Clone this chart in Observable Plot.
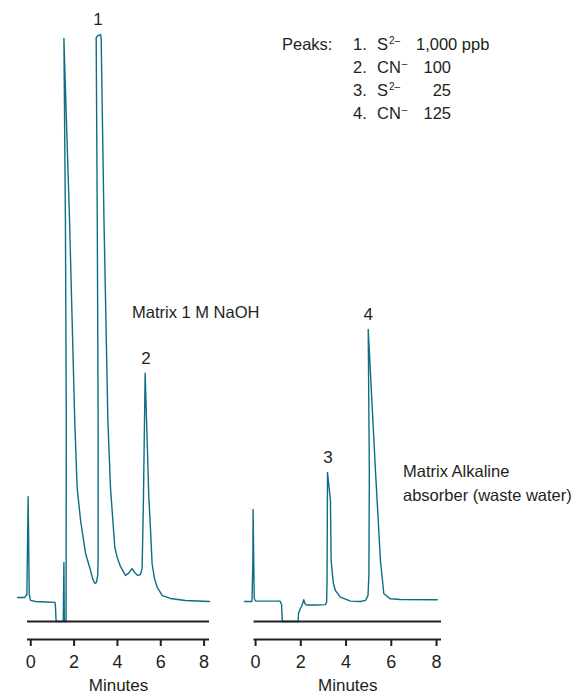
<!DOCTYPE html>
<html>
<head>
<meta charset="utf-8">
<script src="https://cdn.jsdelivr.net/npm/d3@7"></script>
<script src="https://cdn.jsdelivr.net/npm/@observablehq/plot@0.6"></script>
<style>
  html, body { margin: 0; padding: 0; background: #fff; }
  #wrap { position: relative; width: 572px; height: 693px; overflow: hidden;
          font-family: "Liberation Sans", Arial, sans-serif; color: #231f20; }
  .panel { position: absolute; top: 0; }
  .t { position: absolute; white-space: nowrap; font-size: 16.5px; line-height: 18px; }
  .t sup { font-size: 10px; line-height: 0; vertical-align: 0.6em; margin-left: 1px; }
</style>
</head>
<body>
<div id="wrap"></div>
<script>
// ---------- data (time in minutes, signal in arbitrary detector units) ----------
const leftTime = [-0.61, -0.29, -0.18, -0.12, -0.07, -0.01, 0.22, 0.68, 1.12, 1.14, 1.17,
  1.50, 1.53, 1.55, 1.63, 1.64, 1.60, 1.53, 1.79, 2.03, 2.14, 2.30, 2.53, 2.76, 2.87, 2.96,
  3.03, 3.09, 3.11, 3.11, 3.07, 3.02, 3.08, 3.22, 3.25, 3.38, 3.56, 3.68, 3.88, 3.99, 4.14,
  4.37, 4.51, 4.68, 4.79, 4.94, 5.06, 5.14, 5.20, 5.28, 5.45, 5.53, 5.60, 5.71, 5.84, 6.07,
  6.45, 7.14, 8.25];
const leftSignal = [1.33, 1.33, 1.5, 6.94, 1.5, 1.17, 1.11, 1.08, 1.06, 0.83, 0,
  0, 3.28, 0, 0, 11.17, 22.28, 32.39, 22.28, 11.17, 7.44, 5.61, 3.78, 2.83, 2.33, 2.11,
  2.17, 2.56, 3.39, 11.17, 22.28, 32.44, 32.53, 32.61, 32.39, 22.28, 11.17, 7.44, 4.11, 3.56, 3.06,
  2.56, 2.67, 2.94, 2.72, 2.56, 2.61, 2.94, 6.72, 13.79, 6.89, 5.06, 3.22, 2.39, 1.89, 1.44,
  1.28, 1.17, 1.11];

const rightTime = [-0.49, -0.16, -0.12, -0.11, -0.06, 0.0, 0.44, 1.08, 1.15, 1.18,
  1.88, 1.90, 1.98, 2.05, 2.13, 2.18, 2.25, 2.65, 3.09, 3.14, 3.16, 3.18, 3.31, 3.34,
  3.44, 3.53, 3.75, 4.20, 4.64, 4.86, 4.97, 5.01, 5.03, 4.98, 5.30, 5.52, 5.67, 5.96,
  6.41, 8.03];
const rightSignal = [1.11, 1.11, 3.39, 6.22, 1.28, 1.14, 1.13, 1.13, 0.94, 0,
  0, 0.46, 0.72, 0.89, 1.21, 1.0, 0.92, 0.92, 0.94, 1.06, 2.28, 8.28, 6.72, 3.39,
  2.11, 1.72, 1.35, 1.13, 1.11, 1.17, 1.44, 2.56, 8.39, 16.22, 8.39, 3.39, 1.54, 1.26,
  1.22, 1.21];

// peak annotations
const peakLabels = ["1", "2", "3", "4"];
const peakPanel  = ["left", "left", "right", "right"];
const peakTime   = [3.10, 5.32, 3.20, 4.98];
const peakHeight = [32.61, 13.79, 8.28, 16.22];

// legend
const legendNums   = ["1.", "2.", "3.", "4."];
const legendIon    = ["S", "CN", "S", "CN"];
const legendCharge = ["2–", "–", "2–", "–"];
const legendConc   = ["1,000", "100", "25", "125"];
const legendUnit   = ["ppb", "", "", ""];

const xTicks = [0, 2, 4, 6, 8];
const yDomain = [-1, 34];

const TEAL = "#0f6d85";
const INK = "#231f20";
const FONT = '"Liberation Sans", Arial, sans-serif';

// ---------- panels ----------
function panel(time, signal, side, xDomain, marginLeft, marginRight) {
  const data = time.map((t, i) => ({t, v: signal[i]}));
  const peaks = peakLabels.map((l, i) => ({label: l, panel: peakPanel[i], t: peakTime[i], h: peakHeight[i]}))
                          .filter(d => d.panel === side);
  return Plot.plot({
    width: 215,
    height: 693,
    marginTop: 9,
    marginBottom: 54,
    marginLeft,
    marginRight,
    x: {domain: xDomain},
    y: {domain: yDomain, axis: null},
    style: {fontFamily: FONT, fontSize: "18px", color: INK, background: "transparent"},
    marks: [
      Plot.line(data, {x: "t", y: "v", stroke: TEAL, strokeWidth: 1.4}),
      Plot.ruleY([0], {stroke: INK, strokeWidth: 2}),
      Plot.ruleY([yDomain[0]], {stroke: INK, strokeWidth: 2}),
      Plot.axisX({ticks: xTicks, tickSize: 7, tickPadding: 9, fontSize: 18,
                  stroke: INK, strokeWidth: 2, fill: INK, label: null}),
      Plot.axisX({ticks: [], label: "Minutes", labelAnchor: "center", labelOffset: 51,
                  labelArrow: "none", fontSize: 17, fill: INK}),
      Plot.text(peaks, {x: "t", y: "h", text: "label", dy: -15, fontSize: 17, fill: INK})
    ]
  });
}

const wrap = document.getElementById("wrap");

const leftDiv = document.createElement("div");
leftDiv.className = "panel";
leftDiv.style.left = "0px";
leftDiv.appendChild(panel(leftTime, leftSignal, "left", [-0.15, 8.25], 27, 6));
wrap.appendChild(leftDiv);

const rightDiv = document.createElement("div");
rightDiv.className = "panel";
rightDiv.style.left = "230px";
rightDiv.appendChild(panel(rightTime, rightSignal, "right", [-0.07, 8.22], 23.5, 4));
wrap.appendChild(rightDiv);

// ---------- text annotations ----------
function addText(html, x, baseline, align) {
  const d = document.createElement("div");
  d.className = "t";
  d.innerHTML = html;
  d.style.top = (baseline - 14.5) + "px";
  if (align === "right") { d.style.right = (572 - x) + "px"; d.style.textAlign = "right"; }
  else d.style.left = x + "px";
  wrap.appendChild(d);
}

addText("Matrix 1 M NaOH", 132, 317);
addText("Matrix Alkaline", 403, 476);
addText("absorber (waste water)", 403, 500);

const rowBase = [49, 72, 95, 118];
addText("Peaks:", 282, rowBase[0]);
legendNums.forEach((n, i) => {
  addText(n, 353, rowBase[i]);
  addText(`${legendIon[i]}<sup>${legendCharge[i]}</sup>`, 377, rowBase[i]);
  if (legendUnit[i]) addText(`${legendConc[i]} ${legendUnit[i]}`, 416, rowBase[i]);
  else addText(legendConc[i], 451, rowBase[i], "right");
});
</script>
</body>
</html>
